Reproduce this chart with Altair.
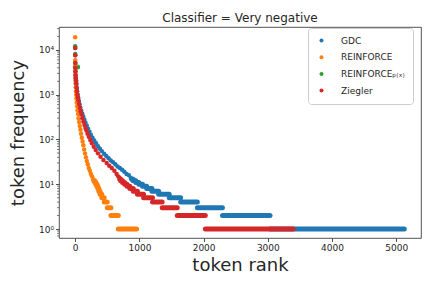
import altair as alt
import pandas as pd

SERIES = ["GDC", "REINFORCE", "REINFORCE_P(x)", "Ziegler"]
COLORS = ["#1f77b4", "#ff7f0e", "#2ca02c", "#d62728"]
LEGEND_LABELS = ["GDC", "REINFORCE", "REINFORCEₚ₍ₓ₎", "Ziegler"]

X_TICKS = [0, 1000, 2000, 3000, 4000, 5000]
Y_TICKS = [1, 10, 100, 1000, 10000]
Y_TICK_LABELS = ["10⁰", "10¹", "10²", "10³", "10⁴"]
Y_MINOR = [0.7, 0.8, 0.9, 2, 3, 4, 5, 6, 7, 8, 9, 20, 30, 40, 50, 60, 70, 80, 90,
           200, 300, 400, 500, 600, 700, 800, 900, 2000, 3000, 4000, 5000, 6000,
           7000, 8000, 9000, 20000, 30000]

# ---- high-frequency tokens: (rank, frequency) ----
gdc_head_rank = [0, 1, 2, 3, 4, 6, 9, 13, 18, 24, 30, 38, 47, 57, 68, 80, 95, 110, 125,
                 142, 160, 180, 200, 222, 245, 270, 297, 325, 355, 385, 415, 450, 485,
                 520, 555, 590, 625, 660, 695, 730, 765, 800, 835, 865]
gdc_head_freq = [11100, 7600, 5100, 4000, 3300, 2700, 2300, 2000, 1700, 1400, 1200, 1000,
                 850, 720, 610, 520, 440, 375, 325, 280, 240, 205, 175, 150, 128, 110, 95,
                 82, 71, 62, 55, 48, 43, 38, 34, 31, 28, 25, 23, 21, 19, 17, 16, 14]

rf_head_rank = [0, 1, 2, 3, 4, 5, 7, 9, 12, 15, 19, 24, 30, 37, 45, 53, 62, 72, 82, 92,
                103, 115, 127, 140, 153, 167, 181, 196, 212, 228, 245, 262, 280]
rf_head_freq = [19200, 5900, 4400, 3400, 2700, 2200, 1800, 1450, 1200, 1000, 820, 670,
                550, 450, 370, 300, 245, 200, 165, 135, 110, 90, 74, 60, 49, 40, 33, 28,
                23, 20, 17, 15, 13]

rfp_head_rank = [0, 1]
rfp_head_freq = [12100, 8100]

zg_head_rank = [0, 1, 2, 3, 4, 6, 9, 13, 17, 22, 28, 35, 42, 50, 60, 72, 85, 98, 112, 128,
                145, 160, 175, 192, 212, 235, 260, 290, 320, 355, 395, 440, 490, 530,
                570, 610, 645, 670, 690]
zg_head_freq = [11100, 7600, 5100, 4000, 3300, 2800, 2400, 2100, 1800, 1450, 1200, 1000,
                880, 750, 620, 510, 430, 360, 300, 250, 210, 180, 158, 135, 115, 97, 82,
                69, 58, 49, 41, 35, 30, 26, 23, 20, 17, 15, 14]

# ---- runs of ranks sharing one frequency: (frequency, first rank, last rank) ----
gdc_plat_freq = [13, 12, 11, 10, 9, 8, 7, 6, 5, 4, 3, 2, 1]
gdc_plat_start = [880, 905, 945, 992, 1048, 1113, 1195, 1300, 1465, 1643, 1903, 2294, 3035]
gdc_plat_end = [904, 944, 991, 1047, 1112, 1194, 1299, 1464, 1642, 1902, 2293, 3034, 5125]

rf_plat_freq = [12, 11, 10, 9, 8, 7, 6, 5, 4, 3, 2, 1]
rf_plat_start = [290, 306, 323, 339, 353, 369, 388, 415, 452, 500, 557, 672]
rf_plat_end = [305, 322, 338, 352, 368, 387, 414, 451, 499, 556, 671, 956]

rfp_plat_freq = [4150]
rfp_plat_start = [2]
rfp_plat_end = [38]

zg_plat_freq = [13, 12, 11, 10, 9, 8, 7, 6, 5, 4, 3, 2, 1]
zg_plat_start = [695, 710, 738, 770, 807, 851, 905, 970, 1065, 1205, 1355, 1590, 2027]
zg_plat_end = [709, 737, 769, 806, 850, 904, 969, 1064, 1204, 1354, 1589, 2026, 3393]

heads = [(gdc_head_rank, gdc_head_freq), (rf_head_rank, rf_head_freq),
         (rfp_head_rank, rfp_head_freq), (zg_head_rank, zg_head_freq)]
plats = [(gdc_plat_freq, gdc_plat_start, gdc_plat_end),
         (rf_plat_freq, rf_plat_start, rf_plat_end),
         (rfp_plat_freq, rfp_plat_start, rfp_plat_end),
         (zg_plat_freq, zg_plat_start, zg_plat_end)]

head_rows = []
for name, (rk, fq) in zip(SERIES, heads):
    for r, f in zip(rk, fq):
        head_rows.append({"series": name, "rank": r, "freq": f})
head_df = pd.DataFrame(head_rows)

plat_rows = []
for name, (fq, st, en) in zip(SERIES, plats):
    for f, s, e in zip(fq, st, en):
        plat_rows.append({"series": name, "freq": f, "start": s, "end": e})
plat_df = pd.DataFrame(plat_rows)

minor_df = pd.DataFrame({"v": Y_MINOR})

TXT = "#262626"
x_scale = alt.Scale(domain=[-252, 5385], nice=False, zero=False)
y_scale = alt.Scale(type="log", domain=[0.63, 32600], nice=False)
color_scale = alt.Scale(domain=SERIES, range=COLORS)

label_expr = " : ".join(
    f"datum.value == {v} ? '{l}'" for v, l in zip(Y_TICKS[:-1], Y_TICK_LABELS[:-1])
) + f" : '{Y_TICK_LABELS[-1]}'"

x_axis = alt.Axis(values=X_TICKS, format="d", title="token rank", titleFontSize=18,
                  titlePadding=4, labelPadding=2)
y_axis = alt.Axis(values=Y_TICKS, labelExpr=label_expr, title="token frequency",
                  titleFontSize=18, titlePadding=11, labelPadding=2)

legend_expr = " : ".join(
    f"datum.label == '{s}' ? '{l}'" for s, l in zip(SERIES[:-1], LEGEND_LABELS[:-1])
) + f" : '{LEGEND_LABELS[-1]}'"

legend = alt.Legend(title=None, orient="none", legendX=249, legendY=1,
                    symbolType="circle", symbolSize=16, symbolStrokeWidth=0,
                    labelFontSize=9, labelColor=TXT, labelFont="DejaVu Sans",
                    padding=8, rowPadding=6.7, labelOffset=15, symbolOffset=1,
                    fillColor="white", strokeColor="#cccccc", cornerRadius=3,
                    labelExpr=legend_expr)

plateau_layer = alt.Chart(plat_df).mark_rule(strokeWidth=5, strokeCap="round").encode(
    x=alt.X("start:Q", scale=x_scale, axis=x_axis),
    x2="end:Q",
    y=alt.Y("freq:Q", scale=y_scale, axis=y_axis),
    color=alt.Color("series:N", scale=color_scale, legend=None),
)

head_layer = alt.Chart(head_df).mark_circle(size=20, opacity=1).encode(
    x=alt.X("rank:Q", scale=x_scale, axis=x_axis),
    y=alt.Y("freq:Q", scale=y_scale, axis=y_axis),
    color=alt.Color("series:N", scale=color_scale, legend=legend),
)

minor_layer = alt.Chart(minor_df).mark_rule(color=TXT, strokeWidth=0.6).encode(
    y=alt.Y("v:Q", scale=y_scale, axis=y_axis),
    x=alt.value(-2),
    x2=alt.value(0),
)

chart = alt.layer(plateau_layer, head_layer, minor_layer).resolve_legend(
    color="independent"
).properties(
    width=362,
    height=211,
    title=alt.TitleParams("Classifier = Very negative", fontSize=12, fontWeight="normal",
                          color=TXT, font="DejaVu Sans", anchor="middle", frame="group",
                          baseline="alphabetic", offset=-6.5),
    autosize=alt.AutoSizeParams(type="none"),
    padding={"left": 51, "top": 19, "right": 3, "bottom": 40},
).configure(font="DejaVu Sans").configure_view(
    stroke=TXT, strokeWidth=0.8
).configure_axis(
    grid=False, domain=False, tickSize=3.5, tickWidth=0.8, tickColor=TXT,
    labelFontSize=9, labelColor=TXT, labelFont="DejaVu Sans",
    titleFont="DejaVu Sans", titleFontWeight="normal", titleColor=TXT,
)

chart.save("out.html", embed_options={"renderer": "svg", "actions": False})
